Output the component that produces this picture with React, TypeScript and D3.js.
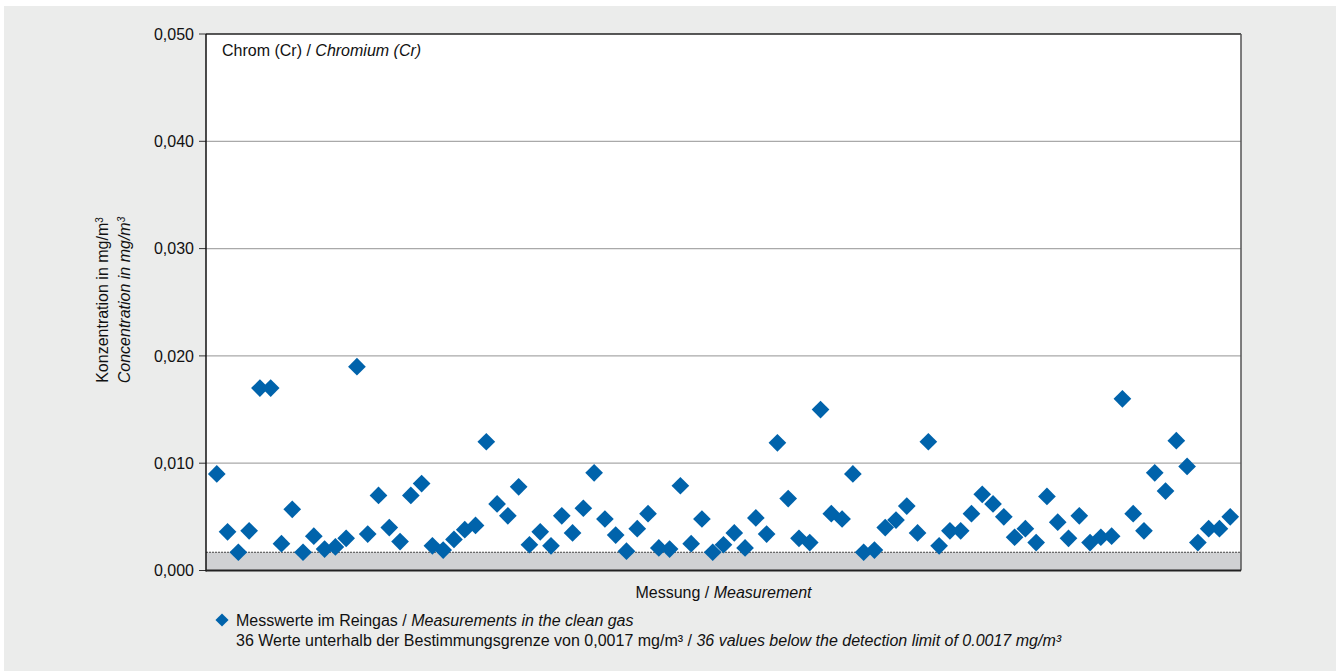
import React from "react";
import * as d3 from "d3";

const values: number[] = [
  0.0090, 0.0036, 0.0017, 0.0037, 0.0170, 0.0170, 0.0025, 0.0057, 0.0017, 0.0032,
  0.0020, 0.0022, 0.0030, 0.0190, 0.0034, 0.0070, 0.0040, 0.0027, 0.0070, 0.0081,
  0.0023, 0.0019, 0.0029, 0.0038, 0.0042, 0.0120, 0.0062, 0.0051, 0.0078, 0.0024,
  0.0036, 0.0023, 0.0051, 0.0035, 0.0058, 0.0091, 0.0048, 0.0033, 0.0018, 0.0039,
  0.0053, 0.0021, 0.0020, 0.0079, 0.0025, 0.0048, 0.0017, 0.0024, 0.0035, 0.0021,
  0.0049, 0.0034, 0.0119, 0.0067, 0.0030, 0.0026, 0.0150, 0.0053, 0.0048, 0.0090,
  0.0017, 0.0019, 0.0040, 0.0047, 0.0060, 0.0035, 0.0120, 0.0023, 0.0037, 0.0037,
  0.0053, 0.0071, 0.0062, 0.0050, 0.0031, 0.0039, 0.0026, 0.0069, 0.0045, 0.0030,
  0.0051, 0.0026, 0.0031, 0.0032, 0.0160, 0.0053, 0.0037, 0.0091, 0.0074, 0.0121,
  0.0097, 0.0026, 0.0039, 0.0039, 0.0050,
];
const measurementIds: number[] = values.map((_, i) => i + 1);
const yTicks: number[] = [0, 0.01, 0.02, 0.03, 0.04, 0.05];
const detectionLimit = 0.0017;

const FONT = "'Liberation Sans Narrow', 'Arial Narrow', 'Liberation Sans', sans-serif";

export default function App() {
  const W = 1341, H = 671;
  const left = 206, right = 1241, top = 34, bottom = 570.5;
  const x = d3.scalePoint<number>().domain(measurementIds).range([left, right]).padding(1);
  const y = d3.scaleLinear().domain([0, 0.05]).range([bottom, top]);
  const fmt = (v: number) => d3.format(".3f")(v).replace(".", ",");
  const diamond = d3.symbol().type(d3.symbolDiamond2).size(200)() as string;
  const blue = "#0063ab";

  return (
    <svg width={W} height={H} style={{ position: "absolute", left: 0, top: 0, display: "block" }}>
      <rect x={0} y={0} width={W} height={H} fill="#ffffff" />
      <rect x={4} y={6} width={1332} height={665} fill="#ebeceb" />
      <rect x={left} y={top} width={right - left} height={bottom - top} fill="#ffffff" />
      {/* detection limit band */}
      <rect x={left} y={y(detectionLimit)} width={right - left} height={bottom - y(detectionLimit)} fill="#d0d1d3" />
      <line x1={left} x2={right} y1={y(detectionLimit)} y2={y(detectionLimit)} stroke="#444" strokeWidth={1} strokeDasharray="2,1" />
      {/* grid */}
      {yTicks.filter(t => t > 0 && t < 0.05).map(t => (
        <line key={t} x1={left} x2={right} y1={y(t)} y2={y(t)} stroke="#a9a9a9" strokeWidth={1.2} />
      ))}
      {/* ticks and labels */}
      {yTicks.map(t => (
        <g key={"t" + t}>
          <line x1={left - 7} x2={left} y1={y(t)} y2={y(t)} stroke="#333" strokeWidth={1} />
          <text x={left - 12} y={y(t)} dy="0.35em" textAnchor="end" fontFamily={FONT} fontSize={16} fill="#111">{fmt(t)}</text>
        </g>
      ))}
      {/* frame */}
      <line x1={left} x2={right} y1={top} y2={top} stroke="#222" strokeWidth={1.5} />
      <line x1={right} x2={right} y1={top} y2={bottom} stroke="#555" strokeWidth={1.5} />
      <line x1={left} x2={left} y1={top} y2={bottom + 1} stroke="#111" strokeWidth={1.5} />
      <line x1={left} x2={right} y1={bottom} y2={bottom} stroke="#222" strokeWidth={2} />
      {/* title */}
      <text x={222} y={56} fontFamily={FONT} fontSize={16} fill="#111">
        Chrom (Cr) / <tspan fontStyle="italic">Chromium (Cr)</tspan>
      </text>
      {/* points */}
      {values.map((v, i) => (
        <path key={i} d={diamond} transform={`translate(${x(measurementIds[i])},${y(v)})`} fill={blue} />
      ))}
      {/* x axis title */}
      <text x={(left + right) / 2} y={598} textAnchor="middle" fontFamily={FONT} fontSize={16} fill="#111">
        Messung / <tspan fontStyle="italic">Measurement</tspan>
      </text>
      {/* y axis title */}
      <g transform="translate(108,300) rotate(-90)">
        <text x={0} y={0} textAnchor="middle" fontFamily={FONT} fontSize={16} fill="#111">
          Konzentration in mg/m<tspan dy={-5} fontSize={10}>3</tspan>
        </text>
        <text x={0} y={22} textAnchor="middle" fontFamily={FONT} fontSize={16} fill="#111" fontStyle="italic">
          Concentration in mg/m<tspan dy={-5} fontSize={10}>3</tspan>
        </text>
      </g>
      {/* legend */}
      <path d={d3.symbol().type(d3.symbolDiamond2).size(110)() as string} transform="translate(222,620)" fill={blue} />
      <text x={236} y={626} fontFamily={FONT} fontSize={16} fill="#111">
        Messwerte im Reingas / <tspan fontStyle="italic">Measurements in the clean gas</tspan>
      </text>
      <text x={236} y={646} fontFamily={FONT} fontSize={16} fill="#111">
        36 Werte unterhalb der Bestimmungsgrenze von 0,0017 mg/m³ / <tspan fontStyle="italic">36 values below the detection limit of 0.0017 mg/m³</tspan>
      </text>
    </svg>
  );
}
